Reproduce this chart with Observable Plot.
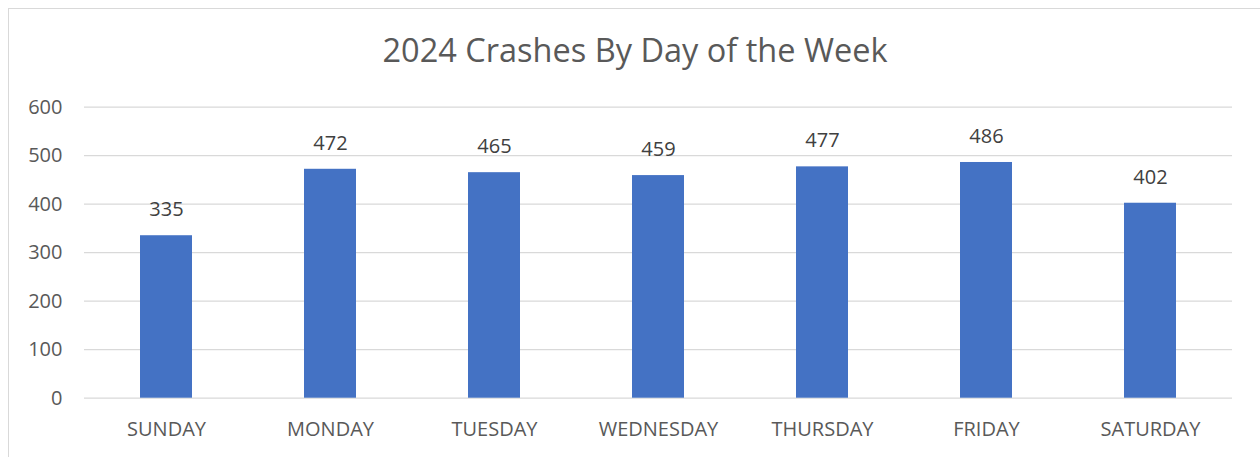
<!DOCTYPE html>
<html>
<head>
<meta charset="utf-8">
<script src="https://cdn.jsdelivr.net/npm/d3@7"></script>
<script src="https://cdn.jsdelivr.net/npm/@observablehq/plot@0.6"></script>
<style>
  html, body { margin: 0; padding: 0; background: #fff; overflow: hidden; }
  #wrap { position: relative; width: 1260px; height: 457px; overflow: hidden; font-family: "Open Sans", sans-serif; }
  #frame { position: absolute; left: 8px; top: 8px; width: 1300px; height: 500px; border: 1px solid #d9d9d9; box-sizing: border-box; }
  #title { position: absolute; left: 0; width: 1270px; top: 34px; text-align: center; font-size: 32.5px; line-height: 1; color: #595959; white-space: nowrap; }
  #chart { position: absolute; left: 0; top: 0; }
</style>
</head>
<body>
<div id="wrap">
  <div id="frame"></div>
  <div id="title">2024 Crashes By Day of the Week</div>
  <div id="chart"></div>
</div>
<script>
const days = ["SUNDAY", "MONDAY", "TUESDAY", "WEDNESDAY", "THURSDAY", "FRIDAY", "SATURDAY"];
const crashes = [335, 472, 465, 459, 477, 486, 402];
const yTicks = [0, 100, 200, 300, 400, 500, 600];

const data = days.map((d, i) => ({day: d, value: crashes[i]}));

const chart = Plot.plot({
  width: 1260,
  height: 457,
  marginLeft: 84,
  marginRight: 28,
  marginTop: 106.7,
  marginBottom: 59.3,
  style: {fontFamily: "'Open Sans', sans-serif", fontSize: "20px", color: "#595959", background: "transparent", overflow: "visible"},
  x: {domain: days, paddingInner: 0.683, paddingOuter: 0.3415, label: null, tickSize: 0, tickPadding: 24},
  y: {domain: [0, 600], ticks: yTicks, label: null, tickSize: 0, tickPadding: 22},
  marks: [
    Plot.ruleY(yTicks, {stroke: "#d9d9d9", strokeWidth: 1.3}),
    Plot.barY(data, {x: "day", y: "value", fill: "#4472c4"}),
    Plot.text(data, {x: "day", y: "value", text: d => String(d.value), dy: -26, fill: "#404040", fontSize: 20}),
    Plot.axisX({tickSize: 0, tickPadding: 24, fill: "#595959", fontSize: 20}),
    Plot.axisY({ticks: yTicks, tickSize: 0, tickPadding: 22, fill: "#595959", fontSize: 20})
  ]
});
document.getElementById("chart").appendChild(chart);
</script>
</body>
</html>
